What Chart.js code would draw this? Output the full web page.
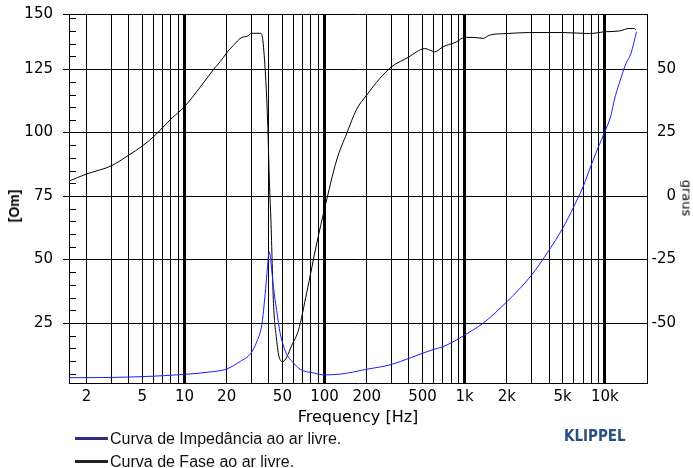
<!DOCTYPE html>
<html>
<head>
<meta charset="utf-8">
<script src="https://cdn.jsdelivr.net/npm/chart.js@4"></script>
<style>
  body { margin: 0; background: #fff; }
  #wrap { position: relative; width: 693px; height: 468px; }
  .legend { position: absolute; left: 75px; top: 427px; font: 16px "Liberation Sans", Arial, sans-serif; color: #111; }
  .legend .row { height: 23px; display: flex; align-items: center; white-space: nowrap; }
  .legend .swatch { width: 33px; height: 3px; margin-right: 2px; }
  .logo { position: absolute; left: 564px; top: 429px; font: bold 15px "Liberation Sans Narrow", "DejaVu Sans Condensed", sans-serif; color: #2b4f80; line-height: 1; }
  .axis-title { position: absolute; color: #000; white-space: nowrap; line-height: 1; }
  .right-title { left: 687px; top: 198px; font: 13px "DejaVu Sans", sans-serif; transform: translate(-50%, -50%) rotate(90deg); }
  .left-title { left: 14px; top: 206px; font: bold 14px "Liberation Sans", Arial, sans-serif; transform: translate(-50%, -50%) rotate(-90deg); }
</style>
</head>
<body>
<div id="wrap">
  <canvas id="main-chart" width="693" height="468"></canvas>
  <div class="axis-title left-title">[Om]</div>
  <div class="axis-title right-title">graus</div>
  <div class="legend">
    <div class="row"><span class="swatch" style="background:#2e2a80"></span>Curva de Impedância ao ar livre.</div>
    <div class="row"><span class="swatch" style="background:#222"></span>Curva de Fase ao ar livre.</div>
  </div>
  <div class="logo">KLIPPEL</div>
</div>
<script>
// ---- Data ----
const IMP_FREQ = [1.5, 2, 5, 10, 15, 20, 25, 29.8, 32.9, 35.7, 37.7, 38.8, 40.3, 41.4, 43.2,
  45.5, 48.2, 50.9, 53.8, 58.9, 66.9, 83, 100, 129, 200, 300, 400, 500, 600, 700, 825,
  1000, 1350, 2000, 3000, 4000, 5000, 6000, 7000, 8000, 9000, 10000, 11070, 11680,
  12680, 14150, 15370, 16830];
const IMP_OHM = [3.5, 3.5, 3.9, 4.8, 5.7, 6.9, 9.9, 13.1, 17.8, 24.5, 36.7, 44.6, 53.1, 49, 39,
  30, 21, 16, 12.5, 9.8, 6.8, 5.4, 4.6, 4.9, 6.8, 8.7, 11.1, 13.1, 14.6, 15.7, 17.6,
  20.3, 24.9, 33.4, 43.9, 53.7, 62.3, 70.8, 78.7, 87.2, 94.4, 100.3, 106.9, 112.8,
  119.4, 127.2, 131.2, 139.7];

const PHASE_FREQ = [1.5, 2, 3, 4, 5, 6, 7, 8, 10, 13, 16.2, 18, 20, 22.4, 25.7, 27.9, 30.3,
  34.8, 36.1, 37.7, 39.2, 40.5, 41.4, 43.2, 45.2, 47.7, 50.4, 53.8, 58.4, 65.1, 74.6,
  88, 100, 122, 144, 169, 200, 248, 300, 400, 453, 519, 563, 611, 701, 873, 1000,
  1146, 1350, 1506, 2000, 2904, 5012, 7762, 10000, 12680, 14940, 16200, 16680];
const PHASE_DEG = [5.9, 8.7, 11.9, 16.1, 19.7, 23.3, 27.0, 30.3, 35.2, 43.0, 50.0, 52.9, 56.4,
  59.4, 62.5, 62.9, 64.1, 64.1, 62.1, 49.6, 29.9, 3.7, -9.4, -42.2, -55.4, -63.9, -65.2,
  -63.3, -58.7, -52.8, -38, -18.5, -5, 14.2, 24.7, 34.1, 39.8, 46.3, 50.9, 54.8, 56.8,
  58.1, 57.5, 56.8, 58.8, 60.7, 62.5, 62.5, 62.1, 63.4, 64.0, 64.4, 64.4, 64.0, 64.7,
  65.0, 66.0, 66.0, 65.4];

// ---- Axes ----
const X_GRID = [2, 3, 4, 5, 6, 7, 8, 9, 10, 20, 30, 40, 50, 60, 70, 80, 90, 100, 200, 300,
  400, 500, 600, 700, 800, 900, 1000, 2000, 3000, 4000, 5000, 6000, 7000, 8000, 9000, 10000];
const X_LABELS = ["2", "", "", "5", "", "", "", "", "10", "20", "", "", "50", "", "", "", "",
  "100", "200", "", "", "500", "", "", "", "", "1k", "2k", "", "", "5k", "", "", "", "", "10k"];
const DECADES = [10, 100, 1000, 10000];

const OHM_TICKS = [25, 50, 75, 100, 125, 146.7];
const OHM_LABELS = ["25", "50", "75", "100", "125", "150"];
const OHM_MINOR = [5, 10, 15, 20, 30, 35, 40, 45, 55, 60, 65, 70, 80, 85, 90, 95,
  105, 110, 115, 120, 130, 135, 140, 145];
const DEG_TICKS = [-50, -25, 0, 25, 50];

const TICK_FONT = { family: "DejaVu Sans", size: 15 };

// short inside ticks on the left axis
const minorTicks = {
  id: "minorTicks",
  afterDatasetsDraw(chart) {
    const { ctx, chartArea: a, scales } = chart;
    ctx.save();
    ctx.strokeStyle = "#000";
    ctx.lineWidth = 1;
    ctx.beginPath();
    OHM_MINOR.forEach((v) => {
      const py = Math.round(scales.y.getPixelForValue(v)) + 0.5;
      ctx.moveTo(a.left, py);
      ctx.lineTo(a.left + 7, py);
    });
    ctx.stroke();
    ctx.restore();
  },
};

// vertical axes: fixed width, no extra top/bottom padding for end labels
function fitVertical(width) {
  return (s) => {
    s.width = width;
    s.paddingTop = 0;
    s.paddingBottom = 0;
  };
}

new Chart(document.getElementById("main-chart"), {
  type: "line",
  data: {
    datasets: [
      {
        label: "Curva de Impedância ao ar livre.",
        data: IMP_FREQ.map((f, i) => ({ x: f, y: IMP_OHM[i] })),
        yAxisID: "y",
        borderColor: "#1c1cff",
        borderWidth: 1,
        pointRadius: 0,
        pointHoverRadius: 0,
        cubicInterpolationMode: "monotone",
      },
      {
        label: "Curva de Fase ao ar livre.",
        data: PHASE_FREQ.map((f, i) => ({ x: f, y: PHASE_DEG[i] })),
        yAxisID: "y1",
        borderColor: "#000",
        borderWidth: 1,
        pointRadius: 0,
        pointHoverRadius: 0,
        cubicInterpolationMode: "monotone",
      },
    ],
  },
  options: {
    responsive: false,
    animation: false,
    layout: { autoPadding: false, padding: { top: 14, left: 0, right: 17, bottom: 0 } },
    plugins: { legend: { display: false }, tooltip: { enabled: false } },
    scales: {
      x: {
        type: "logarithmic",
        position: "bottom",
        min: 1.5,
        max: 20000,
        bounds: "data",
        afterBuildTicks: (s) => { s.ticks = X_GRID.map((v) => ({ value: v })); },
        afterFit: (s) => { s.height = 85; },
        ticks: {
          autoSkip: false,
          maxRotation: 0,
          padding: 5,
          color: "#000",
          font: TICK_FONT,
          callback: (v, i) => X_LABELS[i],
        },
        grid: {
          color: "#000",
          lineWidth: (c) => (c.tick && DECADES.includes(c.tick.value) ? 3 : 1),
          drawTicks: false,
        },
        border: { color: "#000", width: 1 },
        title: {
          display: true,
          text: "Frequency [Hz]",
          color: "#000",
          font: { family: "DejaVu Sans", size: 16 },
          padding: { top: 0, bottom: 41 },
        },
      },
      y: {
        type: "linear",
        position: "left",
        min: 1.4,
        max: 146.7,
        afterBuildTicks: (s) => { s.ticks = OHM_TICKS.map((v) => ({ value: v })); },
        afterFit: fitVertical(69),
        ticks: { padding: 10, color: "#000", font: TICK_FONT, callback: (v, i) => OHM_LABELS[i] },
        grid: { color: "#000", lineWidth: 1, tickLength: 6, tickColor: "#000" },
        border: { color: "#000", width: 1 },
      },
      y1: {
        type: "linear",
        position: "right",
        min: -73.6,
        max: 71.7,
        afterBuildTicks: (s) => { s.ticks = DEG_TICKS.map((v) => ({ value: v })); },
        afterFit: fitVertical(29),
        ticks: { padding: 5, crossAlign: "far", color: "#000", font: TICK_FONT },
        grid: { drawOnChartArea: false, drawTicks: false },
        border: { color: "#000", width: 1 },
      },
    },
  },
  plugins: [minorTicks],
});
</script>
</body>
</html>
